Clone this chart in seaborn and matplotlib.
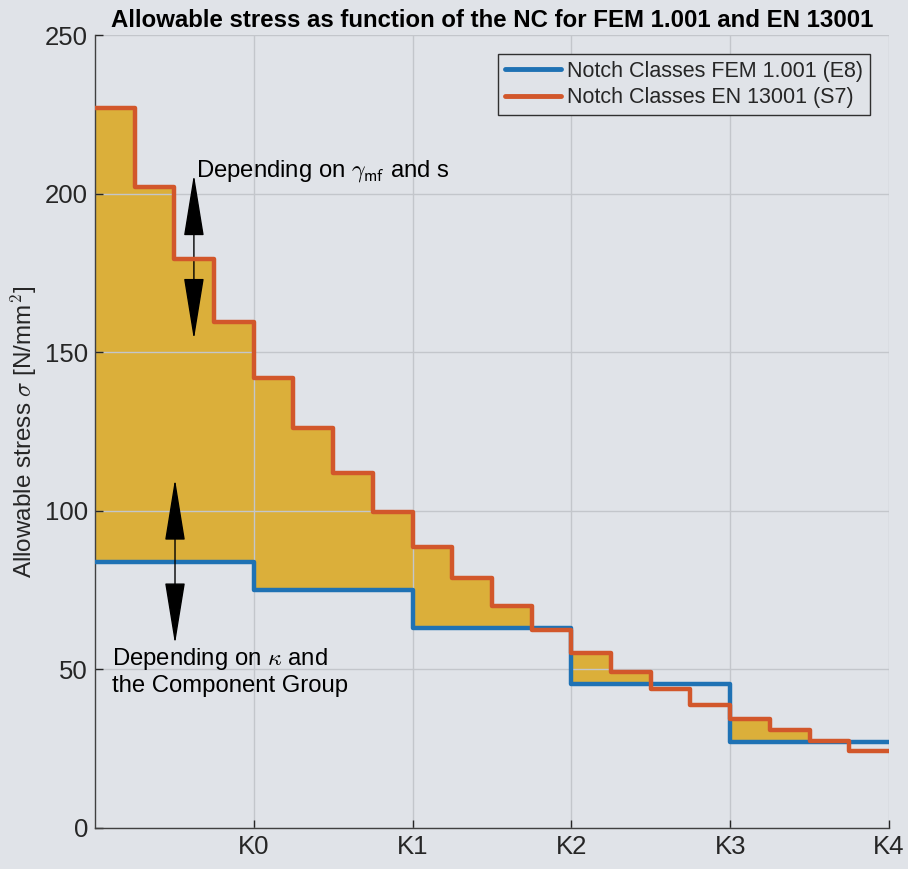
import numpy as np
import pandas as pd
import matplotlib
matplotlib.use("Agg")
import matplotlib.pyplot as plt
import seaborn as sns

# data
nc_labels = ["K0", "K1", "K2", "K3", "K4"]
fem_values = [84, 75, 63, 45.3, 27]          # FEM 1.001 (E8), one per class
en_values = [227, 202, 179.5, 159.5, 142, 126, 112, 99.6,
             88.7, 78.7, 70, 62.4, 55.3, 49.3, 43.7, 38.9,
             34.5, 30.9, 27.4, 24.3]          # EN 13001 (S7), four per class

bg = "#E0E3E8"
blue = "#1F72B4"
red = "#D2572B"
gold = "#DBAF3A"

sns.set_theme(style="whitegrid")
plt.rcParams["font.family"] = ["Liberation Sans", "DejaVu Sans"]
plt.rcParams["mathtext.fontset"] = "cm"

# x positions: class borders
n_cls = len(fem_values)
x_fem = np.arange(n_cls + 1)
x_en = np.arange(len(en_values) + 1) / (len(en_values) / n_cls)
fem_steps = np.append(fem_values, fem_values[-1])
en_steps = np.append(en_values, en_values[-1])
fem_fine = np.append(np.repeat(fem_values, len(en_values) // n_cls), fem_values[-1])

df_fem = pd.DataFrame({"x": x_fem, "y": fem_steps, "s": "Notch Classes FEM 1.001 (E8)"})
df_en = pd.DataFrame({"x": x_en, "y": en_steps, "s": "Notch Classes EN 13001 (S7)"})

fig, ax = plt.subplots(figsize=(9.08, 8.69), dpi=100)
fig.patch.set_facecolor(bg)
ax.set_facecolor(bg)
fig.subplots_adjust(left=0.1046, right=0.979, bottom=0.0472, top=0.9597)

# shaded gap where EN is above FEM
ax.fill_between(x_en, fem_fine, np.maximum(en_steps, fem_fine), step="post",
                color=gold, linewidth=0, zorder=1)

sns.lineplot(data=df_fem, x="x", y="y", color=blue, linewidth=3.2,
             drawstyle="steps-post", label=df_fem["s"][0], ax=ax, zorder=3)
sns.lineplot(data=df_en, x="x", y="y", color=red, linewidth=3.2,
             drawstyle="steps-post", label=df_en["s"][0], ax=ax, zorder=4)

ax.set_xlim(0, n_cls)
ax.set_ylim(0, 250)
ax.set_xticks(np.arange(1, n_cls + 1))
ax.set_xticklabels(nc_labels)
ax.set_yticks(np.arange(0, 251, 50))
ax.tick_params(labelsize=18.5, colors="#262626", direction="in", length=6,
               width=1, left=True, bottom=True, pad=5)
ax.set_axisbelow("line")
ax.grid(True, color="#C3C6CB", linewidth=1)
for s in ["top", "right"]:
    ax.spines[s].set_visible(False)
for s in ["left", "bottom"]:
    ax.spines[s].set_color("#404040")
    ax.spines[s].set_linewidth(1)

ax.set_xlabel("")
ax.set_ylabel(r"Allowable stress $\sigma$ [N/mm$^2$]", fontsize=17.5, color="#262626",
              labelpad=4)
ax.set_title("Allowable stress as function of the NC for FEM 1.001 and EN 13001",
             fontsize=17.3, fontweight="bold", color="black", pad=6)

leg = ax.legend(loc="upper right", fontsize=15.5, frameon=True, fancybox=False,
                facecolor=bg, edgecolor="#303030", framealpha=1,
                borderaxespad=0.9, handlelength=2.6, labelspacing=0.25,
                borderpad=0.3, handletextpad=0.3)
leg.get_frame().set_linewidth(1)
for ln in leg.get_lines():
    ln.set_linewidth(3.5)

arrow = dict(arrowstyle="<|-|>,head_length=4,head_width=0.65", color="black",
             lw=1, mutation_scale=10, shrinkA=0, shrinkB=0)
ax.annotate("", xy=(0.623, 206), xytext=(0.623, 154), arrowprops=arrow)
ax.annotate("", xy=(0.504, 110), xytext=(0.504, 58), arrowprops=arrow)

ax.text(0.635, 207, r"Depending on $\gamma_{\mathsf{mf}}$ and s", fontsize=17.2,
        va="center", ha="left", color="black")
ax.text(0.107, 57.5, "Depending on $\\kappa$ and\nthe Component Group", fontsize=17.2,
        va="top", ha="left", color="black", linespacing=1.2)

fig.savefig("out.png", dpi=100, facecolor=bg)
